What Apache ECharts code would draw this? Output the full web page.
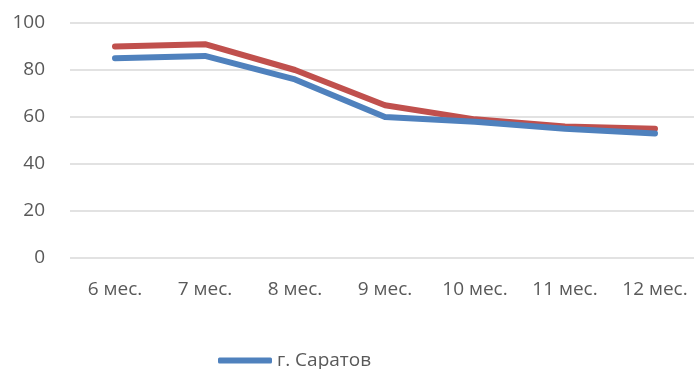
<!DOCTYPE html>
<html>
<head>
<meta charset="utf-8">
<script src="https://cdn.jsdelivr.net/npm/echarts@6/dist/echarts.min.js"></script>
<style>
html,body{margin:0;padding:0;background:#fff;}
#chart{width:694px;height:369px;}
</style>
</head>
<body>
<div id="chart"></div>
<script>
// Categories (age in months) and series values
const categories = ['6 мес.', '7 мес.', '8 мес.', '9 мес.', '10 мес.', '11 мес.', '12 мес.'];
const saratovValues = [85, 86, 76, 60, 58, 55, 53];
const secondValues = [90, 91, 80, 65, 59, 56, 55];
const yTicks = { min: 0, max: 100, interval: 20 };

const chart = echarts.init(document.getElementById('chart'));
const labelFont = { fontFamily: 'Open Sans, sans-serif', fontSize: 19, color: '#595959' };

chart.setOption({
  animation: false,
  grid: { left: 70, width: 630, top: 23, height: 235, outerBoundsMode: 'none', containLabel: false },
  legend: {
    data: ['г. Саратов'],
    top: 351,
    left: 218,
    padding: 0,
    itemWidth: 54,
    itemHeight: 6,
    itemGap: 5,
    icon: 'roundRect',
    textStyle: labelFont
  },
  xAxis: {
    type: 'category',
    data: categories,
    boundaryGap: true,
    axisLine: { show: false },
    axisTick: { show: false },
    axisLabel: Object.assign({ margin: 22 }, labelFont)
  },
  yAxis: {
    type: 'value',
    min: yTicks.min,
    max: yTicks.max,
    interval: yTicks.interval,
    axisLine: { show: false },
    axisTick: { show: false },
    axisLabel: Object.assign({ margin: 25 }, labelFont),
    splitLine: { lineStyle: { color: '#d9d9d9', width: 1.5 } }
  },
  series: [
    {
      name: 'Саратовская область',
      type: 'line',
      data: secondValues,
      symbol: 'none',
      lineStyle: { color: '#c0504d', width: 6, cap: 'round', join: 'round' },
      itemStyle: { color: '#c0504d' }
    },
    {
      name: 'г. Саратов',
      type: 'line',
      data: saratovValues,
      symbol: 'none',
      lineStyle: { color: '#4f81bd', width: 6, cap: 'round', join: 'round' },
      itemStyle: { color: '#4f81bd' }
    }
  ]
});
</script>
</body>
</html>
